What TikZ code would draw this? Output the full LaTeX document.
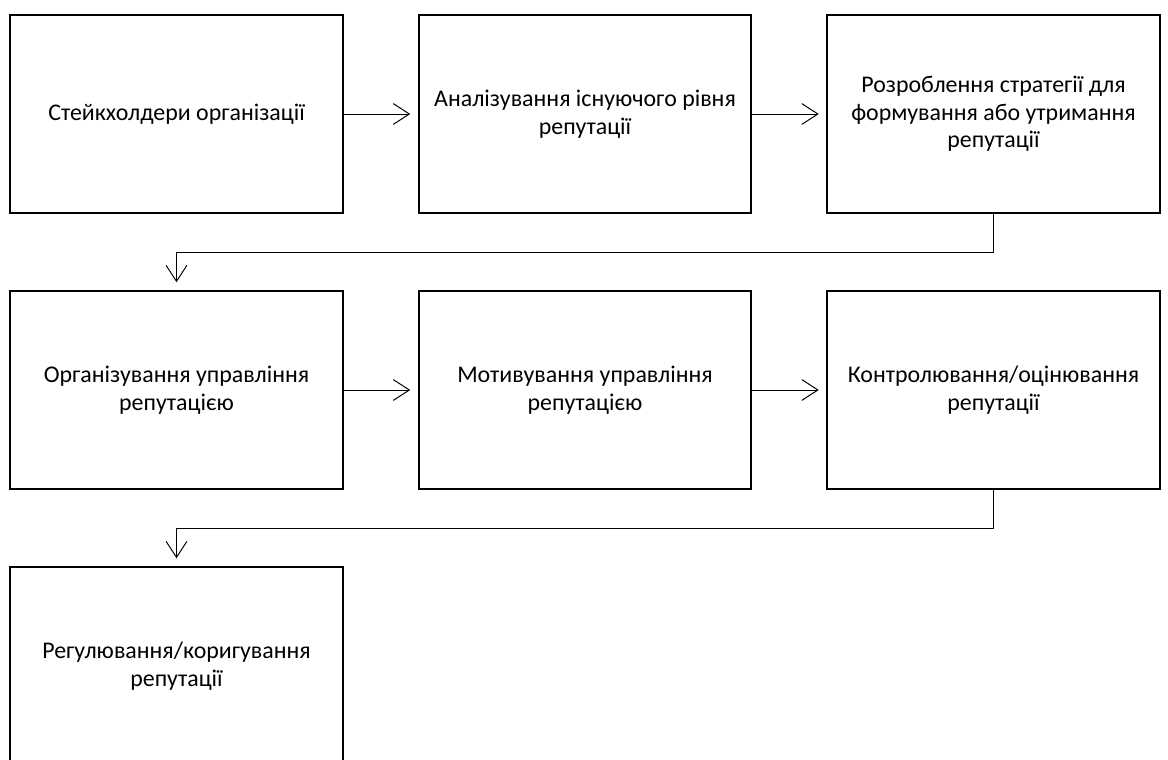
\documentclass[tikz,border=0pt]{standalone}
\usepackage{fontspec}
\setmainfont{Carlito}
\usetikzlibrary{arrows.meta}
\tikzset{>={Straight Barb[length=4mm,width=5.2mm]}}
\tikzset{stage/.style = {shape=rectangle,draw,line width=1.4pt,minimum width=8.3cm,minimum height=4.95cm,align=center,font=\fontsize{17}{19.6}\selectfont}}
\tikzset{link/.style = {->,line width=0.7pt,shorten >=5.5pt}}

\begin{document}
\begin{tikzpicture}[x=0.025cm,y=-0.025cm]
                    \useasboundingbox (0,0) rectangle (1168,760);

                    \node[stage] (A) at (176.5,114) {Стейкхолдери організації};
                    \node[stage] (B) at (585,114) {Аналізування існуючого рівня\\репутації};
                    \node[stage] (C) at (993.5,114) {Розроблення стратегії для\\формування або утримання\\репутації};

                    \node[stage] (D) at (176.5,390) {Організування управління\\репутацією};
                    \node[stage] (E) at (585,390) {Мотивування управління\\репутацією};
                    \node[stage] (F) at (993.5,390) {Контролювання/оцінювання\\репутації};

                    \node[stage] (G) at (176.5,666) {Регулювання/коригування\\репутації};

                    \draw[link] (A) -- (B);
                    \draw[link] (B) -- (C);
                    \draw[link] (C.south) -- ++(0,38) -| (D.north);
                    \draw[link] (D) -- (E);
                    \draw[link] (E) -- (F);
                    \draw[link] (F.south) -- ++(0,38) -| (G.north);
                \end{tikzpicture}
\end{document}
